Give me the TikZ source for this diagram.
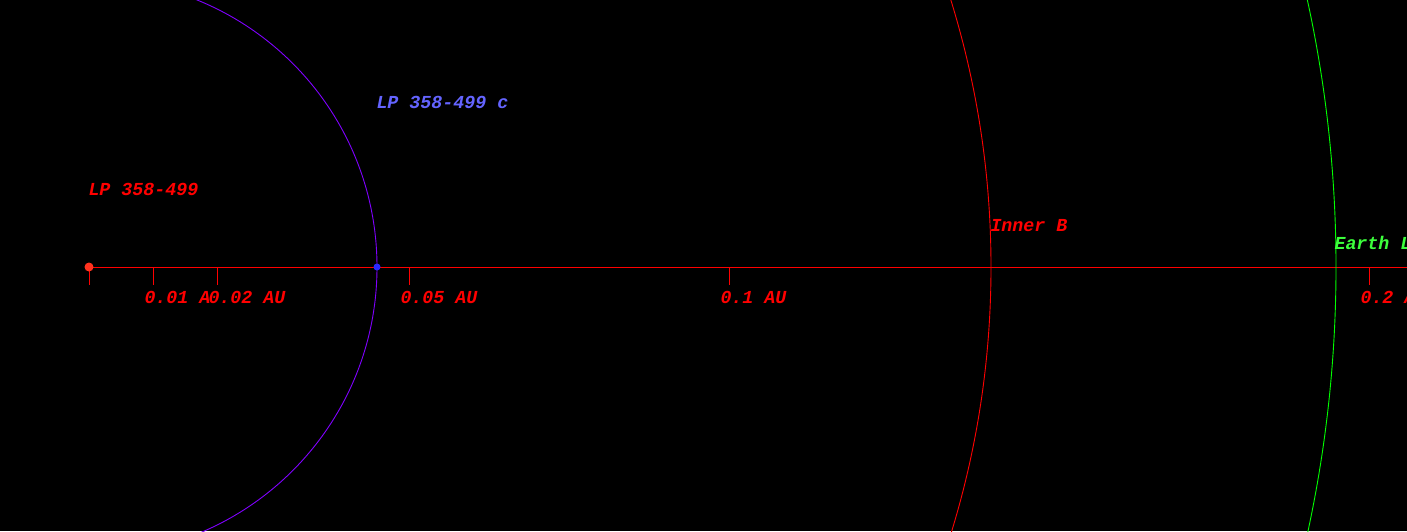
\documentclass[tikz,border=0pt]{standalone}
\usepackage{fontspec}
\newfontfamily\monobi{Liberation Mono}[BoldItalicFont={* Bold Italic}]
\definecolor{axisred}{RGB}{255,0,0}
\definecolor{orbitpurple}{RGB}{128,0,255}
\definecolor{planetblue}{RGB}{40,40,255}
\definecolor{planetlabel}{RGB}{100,100,255}
\definecolor{starred}{RGB}{255,50,30}
\definecolor{earthgreen}{RGB}{0,255,0}
\definecolor{earthlabel}{RGB}{60,255,60}
\tikzset{
  lbl/.style={anchor=base west, inner sep=0pt, outer sep=0pt, font=\monobi\bfseries\itshape\fontsize{18.3}{20}\selectfont},
  ticklbl/.style={lbl, text=axisred},
  tickline/.style={draw=axisred, line width=0.8pt},
}
\begin{document}
\begin{tikzpicture}[x=1pt,y=-1pt]
\fill[black] (0,0) rectangle (1407,531);
\useasboundingbox (0,0) rectangle (1407,531);
\begin{scope}
\clip (0,0) rectangle (1407,531);
% star and axis
\coordinate (star) at (89,267);
\coordinate (axend) at (1407,267);
\draw[axisred, line width=0.8pt] (star) -- (axend);
% ticks
\foreach \x/\n in {89/t0,153/t1,217/t2,409/t5,729/t10,1369/t20}{
  \coordinate (\n) at (\x,267);
  \coordinate (\n b) at (\x,285);
  \draw[tickline] (\n) -- (\n b);
}
\node[ticklbl] (l1) at (144.5,303) {0.01 A};
\node[ticklbl] (l2) at (208.5,303) {0.02 AU};
\node[ticklbl] (l5) at (400.5,303) {0.05 AU};
\node[ticklbl] (l10) at (720.5,303) {0.1 AU};
\node[ticklbl] (l20) at (1360.5,303) {0.2 AU};
% orbits
\draw[orbitpurple, line width=0.9pt] (star) circle[radius=288];
\draw[axisred, line width=0.9pt] (star) circle[radius=902];
\draw[earthgreen, line width=0.9pt] (star) circle[radius=1247];
% bodies
\fill[starred] (star) circle[radius=4.5];
\node[circle, fill=planetblue, inner sep=0pt, minimum size=7pt] (planet) at (377,267) {};
% labels
\node[lbl, text=axisred] (starlbl) at (88.5,195) {LP 358-499};
\node[lbl, text=planetlabel] (planetlbl) at (376.5,108.5) {LP 358-499 c};
\node[lbl, text=axisred] (innerlbl) at (990.5,231) {Inner B};
\node[lbl, text=earthlabel] (earthlbl) at (1334.5,249) {Earth L};
\end{scope}
\end{tikzpicture}
\end{document}
